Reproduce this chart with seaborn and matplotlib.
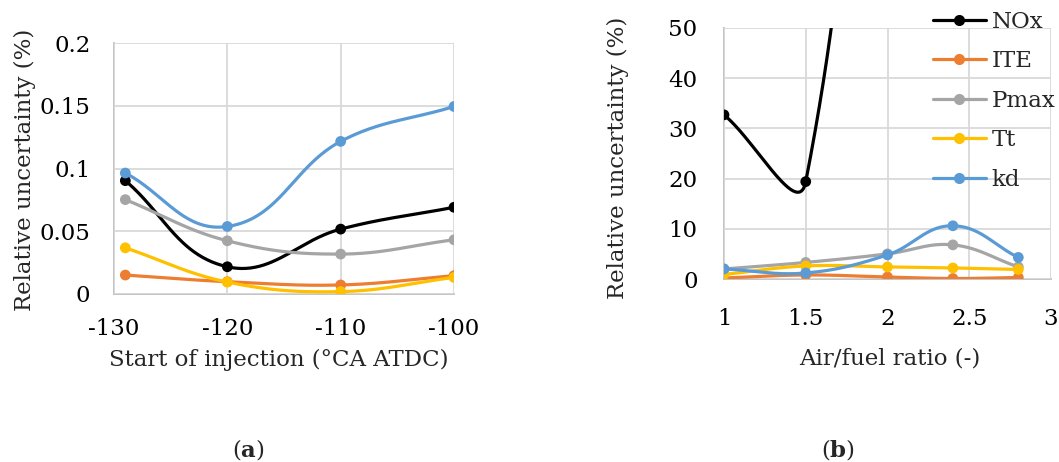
import numpy as np
import pandas as pd
import matplotlib
matplotlib.use("Agg")
import matplotlib.pyplot as plt
from matplotlib.lines import Line2D
import seaborn as sns

# ---- data -------------------------------------------------------------
series_names = ["NOx", "ITE", "Pmax", "Tt", "kd"]
series_colors = ["#000000", "#ED7D31", "#A5A5A5", "#FFC000", "#5B9BD5"]

# (a) start of injection sweep
soi = [-129, -120, -110, -100]
a_nox = [0.0903, 0.0217, 0.0517, 0.0691]
a_ite = [0.0151, 0.0098, 0.0072, 0.0146]
a_pmax = [0.0752, 0.0424, 0.0318, 0.0432]
a_tt = [0.0368, 0.0095, 0.0019, 0.0132]
a_kd = [0.0964, 0.0538, 0.1216, 0.1494]

# (b) air/fuel ratio sweep (NOx leaves the visible range above 50 %)
afr = [1.0, 1.5, 2.0, 2.4, 2.8]
b_nox = [32.7, 19.4, 200.0, 300.0, 400.0]
b_ite = [0.2, 0.8, 0.4, 0.1, 0.3]
b_pmax = [2.0, 3.3, 5.0, 6.8, 2.4]
b_tt = [0.9, 2.6, 2.4, 2.2, 1.9]
b_kd = [2.0, 1.2, 4.8, 10.6, 4.3]

a_xticks = [-130, -120, -110, -100]
a_xticklabels = ["-130", "-120", "-110", "-100"]
a_yticks = [0, 0.05, 0.1, 0.15, 0.2]
a_yticklabels = ["0", "0.05", "0.1", "0.15", "0.2"]
b_xticks = [1, 1.5, 2, 2.5, 3]
b_xticklabels = ["1", "1.5", "2", "2.5", "3"]
b_yticks = [0, 10, 20, 30, 40, 50]
b_yticklabels = ["0", "10", "20", "30", "40", "50"]

ylabel = "Relative uncertainty (%)"
a_xlabel = "Start of injection (\u00b0CA ATDC)"
b_xlabel = "Air/fuel ratio (-)"

# ---- style ------------------------------------------------------------
sns.set_style("white")
FONT = "DejaVu Serif"
plt.rcParams["font.family"] = [FONT, "Liberation Serif"]
plt.rcParams["mathtext.fontset"] = "custom"
plt.rcParams["mathtext.rm"] = FONT
plt.rcParams["mathtext.bf"] = FONT + ":bold"
plt.rcParams["axes.unicode_minus"] = False
FS = 16.5
GRID = "#D9D9D9"
AXIS = "#BFBFBF"
LW = 2.3
MS = 60

W, H = 1059, 462
fig = plt.figure(figsize=(W / 100, H / 100), dpi=100)


def px_axes(left, top, right, bottom):
    return fig.add_axes([left / W, 1 - bottom / H, (right - left) / W, (bottom - top) / H])


def smooth_curve(ax, xs, ys, k=0.38, n=80):
    """Bezier smoothing in display space, control arms scaled by segment length."""
    pts = ax.transData.transform(np.column_stack([xs, ys]))
    out = []
    m = len(pts)
    t = np.linspace(0, 1, n)[:, None]
    for i in range(m - 1):
        p0 = pts[i - 1] if i > 0 else pts[i]
        p1, p2 = pts[i], pts[i + 1]
        p3 = pts[i + 2] if i + 2 < m else pts[i + 1]
        seg = np.linalg.norm(p2 - p1)
        d1 = (p2 - p0) / np.linalg.norm(p2 - p0)
        d2 = (p3 - p1) / np.linalg.norm(p3 - p1)
        c1 = p1 + d1 * seg * k
        c2 = p2 - d2 * seg * k
        b = ((1 - t) ** 3) * p1 + 3 * ((1 - t) ** 2) * t * c1 + 3 * (1 - t) * t ** 2 * c2 + t ** 3 * p2
        out.append(b if i == 0 else b[1:])
    curve = ax.transData.inverted().transform(np.vstack(out))
    return curve[:, 0], curve[:, 1]


def style_axes(ax, xlim, ylim, xticks, xticklabels, yticks, yticklabels, xpad, ypad):
    ax.set_xlim(*xlim)
    ax.set_ylim(*ylim)
    ax.set_xticks(xticks)
    ax.set_xticklabels(xticklabels)
    ax.set_yticks(yticks)
    ax.set_yticklabels(yticklabels)
    ax.tick_params(axis="both", length=0, labelsize=FS, colors="black")
    ax.tick_params(axis="x", pad=xpad)
    ax.tick_params(axis="y", pad=ypad)
    ax.grid(True, color=GRID, linewidth=1.3)
    ax.set_axisbelow(True)
    for s in ["top", "right"]:
        ax.spines[s].set_visible(False)
    for s in ["left", "bottom"]:
        ax.spines[s].set_color(AXIS)
        ax.spines[s].set_linewidth(1.3)
        ax.spines[s].set_zorder(0.5)


def draw_series(ax, x, values):
    for z, (name, color, ys) in enumerate(zip(series_names, series_colors, values)):
        sx, sy = smooth_curve(ax, x, ys)
        sns.lineplot(x=sx, y=sy, ax=ax, color=color, linewidth=LW, sort=False,
                     estimator=None, zorder=3 + z * 2, legend=False)
        df = pd.DataFrame({"x": x, "y": ys})
        sns.scatterplot(data=df, x="x", y="y", ax=ax, color=color, s=MS,
                        edgecolor="none", zorder=4 + z * 2, legend=False)
    ax.set_xlabel("")
    ax.set_ylabel("")


# ---- panel (a) --------------------------------------------------------
ax_a = px_axes(114, 43, 454, 294)
style_axes(ax_a, (-130, -100), (0, 0.2), a_xticks, a_xticklabels,
           a_yticks, a_yticklabels, xpad=17, ypad=17)
draw_series(ax_a, soi, [a_nox, a_ite, a_pmax, a_tt, a_kd])

# ---- panel (b) --------------------------------------------------------
ax_b = px_axes(724, 28, 1051, 279)
style_axes(ax_b, (1, 3), (0, 50), b_xticks, b_xticklabels,
           b_yticks, b_yticklabels, xpad=21, ypad=19)
draw_series(ax_b, afr, [b_nox, b_ite, b_pmax, b_tt, b_kd])

# axis titles
fig.text(25 / W, 1 - 170 / H, ylabel, rotation=90, ha="center", va="center", fontsize=FS)
fig.text(618 / W, 1 - 158 / H, ylabel, rotation=90, ha="center", va="center", fontsize=FS)
fig.text(279 / W, 1 - 360 / H, a_xlabel, ha="center", va="center", fontsize=FS)
fig.text(890 / W, 1 - 358 / H, b_xlabel, ha="center", va="center", fontsize=FS)

# panel captions
fig.text(248 / W, 1 - 450 / H, r"($\mathbf{a}$)", ha="center", va="center", fontsize=FS)
fig.text(838 / W, 1 - 450 / H, r"($\mathbf{b}$)", ha="center", va="center", fontsize=FS)

# legend
handles = [Line2D([0], [0], color=c, linewidth=LW, marker="o", markersize=8,
                  markeredgewidth=0) for c in series_colors]
ax_b.legend(handles, series_names, loc="upper left",
            bbox_to_anchor=(933 / W, 1 - 11 / H), bbox_transform=fig.transFigure,
            frameon=False, borderpad=0, borderaxespad=0, handlelength=2.3,
            handletextpad=0.25, labelspacing=0.76, fontsize=FS)

fig.savefig("out.png", dpi=100)
